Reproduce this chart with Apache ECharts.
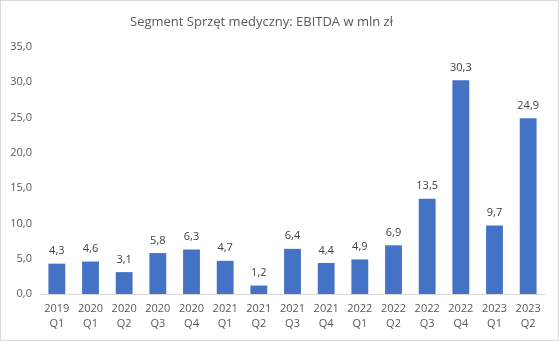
<!DOCTYPE html>
<html>
<head>
<meta charset="utf-8">
<script src="https://cdn.jsdelivr.net/npm/echarts@6/dist/echarts.min.js"></script>
<style>
  html, body { margin: 0; padding: 0; background: #fff; }
  #chart { width: 559px; height: 341px; box-sizing: border-box; border: 1px solid #d9d9d9; }
</style>
</head>
<body>
<div id="chart"></div>
<script>
// Quarterly EBITDA of the medical equipment segment (PLN millions)
const quarters = ['2019\nQ1', '2020\nQ1', '2020\nQ2', '2020\nQ3', '2020\nQ4', '2021\nQ1', '2021\nQ2',
  '2021\nQ3', '2021\nQ4', '2022\nQ1', '2022\nQ2', '2022\nQ3', '2022\nQ4', '2023\nQ1', '2023\nQ2'];
const ebitda = [4.3, 4.6, 3.1, 5.8, 6.3, 4.7, 1.2, 6.4, 4.4, 4.9, 6.9, 13.5, 30.3, 9.7, 24.9];
const yTicks = { min: 0, max: 35, step: 5 };

const fmt = v => v.toFixed(1).replace('.', ',');
const fontFamily = '"Open Sans", "Noto Sans", sans-serif';

const chart = echarts.init(document.getElementById('chart'), null, { renderer: 'canvas' });
chart.setOption({
  animation: false,
  title: {
    text: 'Segment Sprzęt medyczny: EBITDA w mln zł',
    left: 124,
    top: 10,
    textStyle: { fontFamily, fontSize: 13, fontWeight: 'normal', color: '#595959' }
  },
  grid: { left: 39, right: 13, top: 46, bottom: 46 },
  xAxis: {
    type: 'category',
    data: quarters,
    axisLine: { lineStyle: { color: '#d9d9d9' } },
    axisTick: { show: false },
    axisLabel: { fontFamily, fontSize: 11, color: '#595959', lineHeight: 15, margin: 7, interval: 0 }
  },
  yAxis: {
    type: 'value',
    min: yTicks.min,
    max: yTicks.max,
    interval: yTicks.step,
    splitLine: { show: false },
    axisLine: { show: false },
    axisTick: { show: false },
    axisLabel: { fontFamily, fontSize: 11, color: '#595959', formatter: fmt, margin: 8 }
  },
  series: [{
    type: 'bar',
    data: ebitda,
    barWidth: '50%',
    itemStyle: { color: '#4472c4' },
    label: {
      show: true,
      position: 'top',
      distance: 7,
      fontFamily,
      fontSize: 11,
      color: '#404040',
      formatter: p => fmt(p.value)
    }
  }]
});
</script>
</body>
</html>
